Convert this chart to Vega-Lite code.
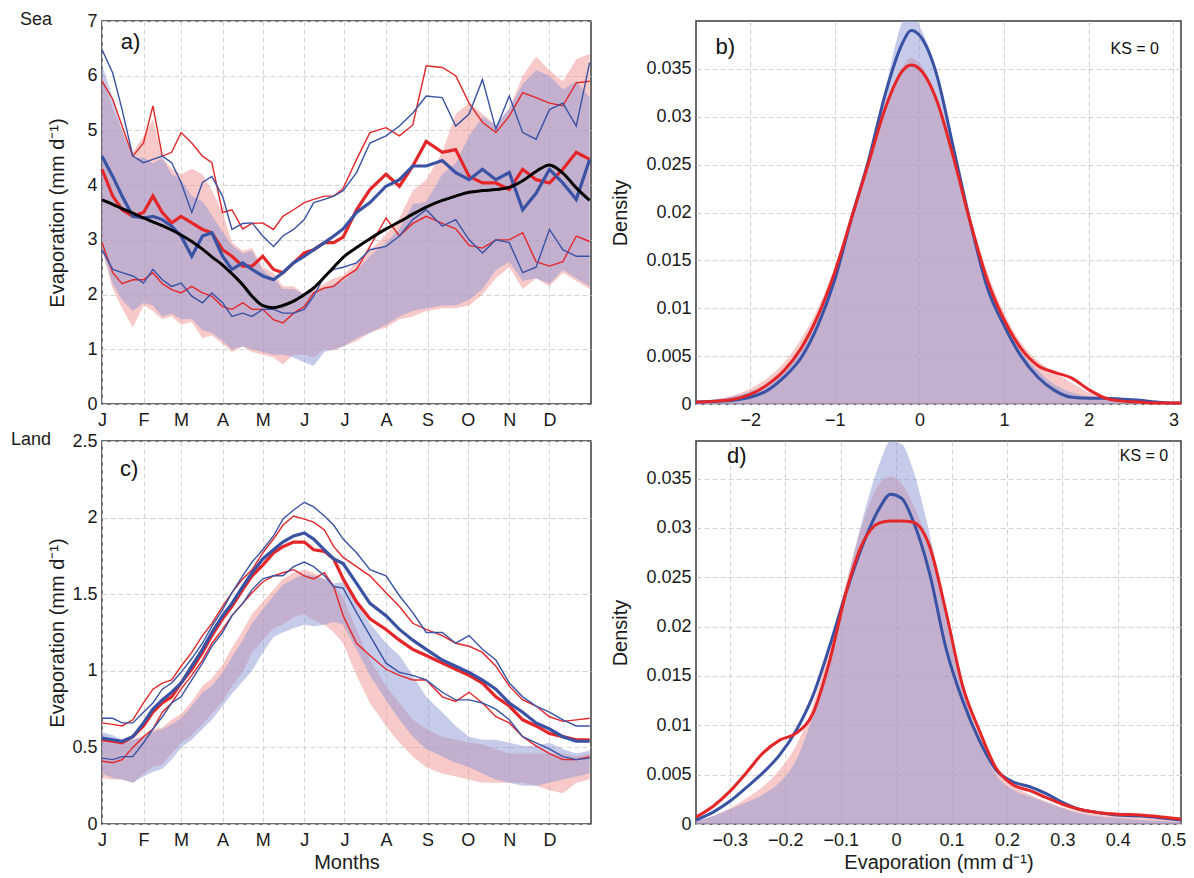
{
"$schema": "https://vega.github.io/schema/vega-lite/v6.json",
"background": "white",
"padding": {"left": 10, "top": 10, "right": 8, "bottom": 4},
"config": {
  "font": "Liberation Sans",
  "view": {"stroke": "#3a3a3a", "strokeWidth": 1.5},
  "axis": {"labelFont": "Liberation Sans", "titleFont": "Liberation Sans", "labelFontSize": 18, "titleFontSize": 20, "titleFontWeight": "normal", "labelColor": "#1a1a1a", "titleColor": "#1a1a1a", "domain": false, "ticks": false, "tickSize": 0, "gridColor": "#d2d2d2", "gridDash": [5, 3], "gridWidth": 1, "labelFlush": false},
  "axisX": {"labelPadding": 7, "titlePadding": 3},
  "axisY": {"labelPadding": 5},
  "title": {"font": "Liberation Sans", "fontSize": 18, "fontWeight": "normal", "color": "#1a1a1a"}
},
"datasets": {
  "sea": [
    {"day":0,"red_lo":2.8,"red_hi":6.0,"blue_lo":2.85,"blue_hi":6.2,"red_1":5.9,"red_2":2.95,"blue_1":6.48,"blue_2":2.82,"red_mean":4.29,"blue_mean":4.53,"obs":3.73},
    {"day":8,"red_lo":2.1,"red_hi":5.4,"blue_lo":2.2,"blue_hi":5.6,"red_1":5.57,"red_2":2.4,"blue_1":6.05,"blue_2":2.46,"red_mean":3.8,"blue_mean":4.16,"obs":3.65},
    {"day":15,"red_lo":1.75,"red_hi":5.0,"blue_lo":1.9,"blue_hi":5.0,"red_1":5.08,"red_2":2.2,"blue_1":5.38,"blue_2":2.4,"red_mean":3.55,"blue_mean":3.8,"obs":3.57},
    {"day":23,"red_lo":1.4,"red_hi":4.6,"blue_lo":1.7,"blue_hi":4.5,"red_1":4.53,"red_2":2.27,"blue_1":4.53,"blue_2":2.34,"red_mean":3.43,"blue_mean":3.43,"obs":3.49},
    {"day":31,"red_lo":1.8,"red_hi":4.9,"blue_lo":1.85,"blue_hi":4.5,"red_1":4.77,"red_2":2.27,"blue_1":4.41,"blue_2":2.21,"red_mean":3.5,"blue_mean":3.4,"obs":3.4},
    {"day":38,"red_lo":1.7,"red_hi":5.2,"blue_lo":1.8,"blue_hi":4.4,"red_1":5.45,"red_2":2.4,"blue_1":4.47,"blue_2":2.46,"red_mean":3.8,"blue_mean":3.43,"obs":3.33},
    {"day":45,"red_lo":1.55,"red_hi":4.5,"blue_lo":1.6,"blue_hi":4.5,"red_1":4.53,"red_2":2.2,"blue_1":4.53,"blue_2":2.27,"red_mean":3.5,"blue_mean":3.37,"obs":3.26},
    {"day":52,"red_lo":1.6,"red_hi":4.3,"blue_lo":1.65,"blue_hi":4.2,"red_1":4.6,"red_2":2.09,"blue_1":4.41,"blue_2":2.15,"red_mean":3.31,"blue_mean":3.25,"obs":3.18},
    {"day":59,"red_lo":1.45,"red_hi":4.2,"blue_lo":1.55,"blue_hi":4.1,"red_1":4.96,"red_2":2.03,"blue_1":4.05,"blue_2":2.21,"red_mean":3.43,"blue_mean":3.07,"obs":3.09},
    {"day":67,"red_lo":1.5,"red_hi":4.3,"blue_lo":1.55,"blue_hi":3.8,"red_1":4.77,"red_2":2.15,"blue_1":3.5,"blue_2":1.97,"red_mean":3.31,"blue_mean":2.7,"obs":2.97},
    {"day":75,"red_lo":1.2,"red_hi":4.2,"blue_lo":1.35,"blue_hi":3.7,"red_1":4.53,"red_2":2.03,"blue_1":4.05,"blue_2":1.85,"red_mean":3.19,"blue_mean":3.07,"obs":2.83},
    {"day":82,"red_lo":1.25,"red_hi":3.9,"blue_lo":1.3,"blue_hi":3.45,"red_1":4.41,"red_2":1.97,"blue_1":4.16,"blue_2":2.03,"red_mean":3.13,"blue_mean":3.13,"obs":2.69},
    {"day":90,"red_lo":1.1,"red_hi":3.5,"blue_lo":1.15,"blue_hi":3.15,"red_1":3.5,"red_2":1.78,"blue_1":3.8,"blue_2":1.85,"red_mean":2.82,"blue_mean":2.7,"obs":2.54},
    {"day":97,"red_lo":0.95,"red_hi":2.95,"blue_lo":1.0,"blue_hi":2.9,"red_1":3.55,"red_2":1.73,"blue_1":3.19,"blue_2":1.6,"red_mean":2.7,"blue_mean":2.46,"obs":2.38},
    {"day":105,"red_lo":1.05,"red_hi":2.8,"blue_lo":1.05,"blue_hi":2.75,"red_1":3.2,"red_2":1.85,"blue_1":3.3,"blue_2":1.66,"red_mean":2.52,"blue_mean":2.58,"obs":2.18},
    {"day":112,"red_lo":0.95,"red_hi":2.85,"blue_lo":1.0,"blue_hi":2.8,"red_1":3.3,"red_2":1.73,"blue_1":3.31,"blue_2":1.6,"red_mean":2.52,"blue_mean":2.46,"obs":1.97},
    {"day":120,"red_lo":0.9,"red_hi":2.5,"blue_lo":0.95,"blue_hi":2.45,"red_1":3.31,"red_2":1.73,"blue_1":3.07,"blue_2":1.73,"red_mean":2.7,"blue_mean":2.34,"obs":1.8},
    {"day":128,"red_lo":0.85,"red_hi":2.4,"blue_lo":0.9,"blue_hi":2.3,"red_1":3.19,"red_2":1.54,"blue_1":2.88,"blue_2":1.73,"red_mean":2.46,"blue_mean":2.27,"obs":1.76},
    {"day":135,"red_lo":0.72,"red_hi":2.15,"blue_lo":0.9,"blue_hi":2.1,"red_1":3.43,"red_2":1.48,"blue_1":3.07,"blue_2":1.66,"red_mean":2.4,"blue_mean":2.4,"obs":1.8},
    {"day":143,"red_lo":0.9,"red_hi":2.15,"blue_lo":0.85,"blue_hi":2.1,"red_1":3.55,"red_2":1.66,"blue_1":3.19,"blue_2":1.66,"red_mean":2.58,"blue_mean":2.58,"obs":1.88},
    {"day":151,"red_lo":0.9,"red_hi":2.0,"blue_lo":0.76,"blue_hi":2.0,"red_1":3.68,"red_2":1.78,"blue_1":3.37,"blue_2":1.73,"red_mean":2.76,"blue_mean":2.7,"obs":2.0},
    {"day":158,"red_lo":0.85,"red_hi":2.1,"blue_lo":0.7,"blue_hi":2.05,"red_1":3.74,"red_2":2.03,"blue_1":3.68,"blue_2":1.97,"red_mean":2.82,"blue_mean":2.82,"obs":2.12},
    {"day":166,"red_lo":1.0,"red_hi":2.2,"blue_lo":0.95,"blue_hi":2.1,"red_1":3.8,"red_2":2.12,"blue_1":3.74,"blue_2":2.34,"red_mean":2.95,"blue_mean":2.95,"obs":2.32},
    {"day":173,"red_lo":0.98,"red_hi":2.3,"blue_lo":1.0,"blue_hi":2.2,"red_1":3.8,"red_2":2.15,"blue_1":3.8,"blue_2":2.46,"red_mean":2.95,"blue_mean":3.07,"obs":2.5},
    {"day":180,"red_lo":1.05,"red_hi":2.35,"blue_lo":1.05,"blue_hi":2.25,"red_1":3.94,"red_2":2.3,"blue_1":3.9,"blue_2":2.5,"red_mean":3.05,"blue_mean":3.2,"obs":2.68},
    {"day":190,"red_lo":1.15,"red_hi":2.6,"blue_lo":1.2,"blue_hi":2.45,"red_1":4.47,"red_2":2.46,"blue_1":4.23,"blue_2":2.58,"red_mean":3.55,"blue_mean":3.5,"obs":2.86},
    {"day":200,"red_lo":1.3,"red_hi":2.8,"blue_lo":1.3,"blue_hi":2.7,"red_1":4.96,"red_2":2.88,"blue_1":4.77,"blue_2":2.82,"red_mean":3.92,"blue_mean":3.68,"obs":3.02},
    {"day":212,"red_lo":1.4,"red_hi":3.1,"blue_lo":1.45,"blue_hi":2.95,"red_1":5.05,"red_2":3.4,"blue_1":4.9,"blue_2":2.88,"red_mean":4.2,"blue_mean":3.98,"obs":3.2},
    {"day":222,"red_lo":1.55,"red_hi":3.4,"blue_lo":1.6,"blue_hi":3.2,"red_1":4.9,"red_2":3.07,"blue_1":5.08,"blue_2":3.07,"red_mean":3.98,"blue_mean":4.1,"obs":3.33},
    {"day":232,"red_lo":1.6,"red_hi":3.9,"blue_lo":1.7,"blue_hi":3.65,"red_1":5.1,"red_2":3.3,"blue_1":5.32,"blue_2":3.37,"red_mean":4.35,"blue_mean":4.35,"obs":3.47},
    {"day":242,"red_lo":1.7,"red_hi":4.1,"blue_lo":1.75,"blue_hi":3.7,"red_1":6.18,"red_2":3.43,"blue_1":5.63,"blue_2":3.55,"red_mean":4.8,"blue_mean":4.35,"obs":3.6},
    {"day":254,"red_lo":1.75,"red_hi":4.6,"blue_lo":1.8,"blue_hi":4.2,"red_1":6.15,"red_2":3.3,"blue_1":5.6,"blue_2":3.25,"red_mean":4.6,"blue_mean":4.45,"obs":3.72},
    {"day":264,"red_lo":1.75,"red_hi":5.3,"blue_lo":1.8,"blue_hi":4.4,"red_1":6.0,"red_2":3.2,"blue_1":5.08,"blue_2":3.37,"red_mean":4.65,"blue_mean":4.23,"obs":3.8},
    {"day":274,"red_lo":1.8,"red_hi":5.5,"blue_lo":1.9,"blue_hi":4.9,"red_1":5.5,"red_2":2.9,"blue_1":5.3,"blue_2":3.0,"red_mean":4.16,"blue_mean":4.1,"obs":3.87},
    {"day":284,"red_lo":2.0,"red_hi":5.3,"blue_lo":2.1,"blue_hi":5.25,"red_1":5.15,"red_2":2.85,"blue_1":5.93,"blue_2":2.76,"red_mean":4.04,"blue_mean":4.29,"obs":3.9},
    {"day":294,"red_lo":2.3,"red_hi":5.1,"blue_lo":2.45,"blue_hi":5.1,"red_1":4.96,"red_2":3.0,"blue_1":5.02,"blue_2":3.0,"red_mean":4.04,"blue_mean":4.1,"obs":3.92},
    {"day":304,"red_lo":2.5,"red_hi":5.4,"blue_lo":2.6,"blue_hi":5.4,"red_1":5.26,"red_2":3.0,"blue_1":5.63,"blue_2":2.95,"red_mean":3.92,"blue_mean":4.23,"obs":3.96},
    {"day":314,"red_lo":2.1,"red_hi":6.0,"blue_lo":2.25,"blue_hi":5.85,"red_1":5.69,"red_2":3.13,"blue_1":4.96,"blue_2":2.4,"red_mean":4.29,"blue_mean":3.55,"obs":4.08},
    {"day":324,"red_lo":2.3,"red_hi":6.35,"blue_lo":2.3,"blue_hi":6.1,"red_1":5.6,"red_2":2.6,"blue_1":4.84,"blue_2":2.5,"red_mean":4.1,"blue_mean":3.85,"obs":4.25},
    {"day":334,"red_lo":2.15,"red_hi":6.1,"blue_lo":2.2,"blue_hi":6.0,"red_1":5.5,"red_2":2.52,"blue_1":5.38,"blue_2":3.19,"red_mean":4.04,"blue_mean":4.29,"obs":4.37},
    {"day":344,"red_lo":2.4,"red_hi":5.9,"blue_lo":2.45,"blue_hi":5.75,"red_1":5.45,"red_2":2.6,"blue_1":5.5,"blue_2":2.82,"red_mean":4.29,"blue_mean":4.04,"obs":4.22},
    {"day":354,"red_lo":2.25,"red_hi":6.3,"blue_lo":2.3,"blue_hi":5.9,"red_1":5.87,"red_2":3.07,"blue_1":5.08,"blue_2":2.7,"red_mean":4.6,"blue_mean":3.74,"obs":3.95},
    {"day":364,"red_lo":2.1,"red_hi":6.4,"blue_lo":2.15,"blue_hi":5.6,"red_1":5.9,"red_2":2.97,"blue_1":6.24,"blue_2":2.7,"red_mean":4.47,"blue_mean":4.47,"obs":3.72}
  ],
  "land": [
    {"day":0,"red_lo":0.3,"red_hi":0.57,"blue_lo":0.33,"blue_hi":0.6,"red_1":0.66,"red_2":0.41,"blue_1":0.69,"blue_2":0.43,"red_mean":0.55,"blue_mean":0.56},
    {"day":8,"red_lo":0.29,"red_hi":0.56,"blue_lo":0.3,"blue_hi":0.58,"red_1":0.65,"red_2":0.4,"blue_1":0.69,"blue_2":0.42,"red_mean":0.54,"blue_mean":0.55},
    {"day":15,"red_lo":0.29,"red_hi":0.52,"blue_lo":0.29,"blue_hi":0.55,"red_1":0.64,"red_2":0.42,"blue_1":0.66,"blue_2":0.44,"red_mean":0.53,"blue_mean":0.54},
    {"day":23,"red_lo":0.27,"red_hi":0.55,"blue_lo":0.27,"blue_hi":0.55,"red_1":0.68,"red_2":0.5,"blue_1":0.66,"blue_2":0.44,"red_mean":0.57,"blue_mean":0.57},
    {"day":31,"red_lo":0.33,"red_hi":0.58,"blue_lo":0.31,"blue_hi":0.57,"red_1":0.79,"red_2":0.57,"blue_1":0.73,"blue_2":0.53,"red_mean":0.64,"blue_mean":0.66},
    {"day":38,"red_lo":0.37,"red_hi":0.62,"blue_lo":0.34,"blue_hi":0.6,"red_1":0.88,"red_2":0.62,"blue_1":0.79,"blue_2":0.62,"red_mean":0.73,"blue_mean":0.75},
    {"day":45,"red_lo":0.39,"red_hi":0.63,"blue_lo":0.36,"blue_hi":0.62,"red_1":0.92,"red_2":0.73,"blue_1":0.88,"blue_2":0.7,"red_mean":0.79,"blue_mean":0.81},
    {"day":52,"red_lo":0.46,"red_hi":0.68,"blue_lo":0.42,"blue_hi":0.65,"red_1":0.94,"red_2":0.79,"blue_1":0.92,"blue_2":0.79,"red_mean":0.83,"blue_mean":0.86},
    {"day":59,"red_lo":0.53,"red_hi":0.72,"blue_lo":0.5,"blue_hi":0.69,"red_1":1.03,"red_2":0.88,"blue_1":0.99,"blue_2":0.83,"red_mean":0.92,"blue_mean":0.92},
    {"day":67,"red_lo":0.58,"red_hi":0.8,"blue_lo":0.55,"blue_hi":0.77,"red_1":1.12,"red_2":0.97,"blue_1":1.08,"blue_2":0.94,"red_mean":1.01,"blue_mean":1.03},
    {"day":75,"red_lo":0.65,"red_hi":0.9,"blue_lo":0.62,"blue_hi":0.86,"red_1":1.23,"red_2":1.07,"blue_1":1.18,"blue_2":1.05,"red_mean":1.12,"blue_mean":1.14},
    {"day":82,"red_lo":0.72,"red_hi":0.95,"blue_lo":0.68,"blue_hi":0.9,"red_1":1.31,"red_2":1.18,"blue_1":1.29,"blue_2":1.16,"red_mean":1.23,"blue_mean":1.25},
    {"day":90,"red_lo":0.8,"red_hi":1.04,"blue_lo":0.77,"blue_hi":0.99,"red_1":1.42,"red_2":1.27,"blue_1":1.4,"blue_2":1.25,"red_mean":1.34,"blue_mean":1.36},
    {"day":97,"red_lo":0.9,"red_hi":1.15,"blue_lo":0.85,"blue_hi":1.09,"red_1":1.51,"red_2":1.36,"blue_1":1.51,"blue_2":1.36,"red_mean":1.42,"blue_mean":1.44},
    {"day":105,"red_lo":0.99,"red_hi":1.26,"blue_lo":0.93,"blue_hi":1.2,"red_1":1.6,"red_2":1.44,"blue_1":1.62,"blue_2":1.44,"red_mean":1.53,"blue_mean":1.55},
    {"day":112,"red_lo":1.12,"red_hi":1.37,"blue_lo":1.0,"blue_hi":1.31,"red_1":1.66,"red_2":1.51,"blue_1":1.71,"blue_2":1.53,"red_mean":1.62,"blue_mean":1.64},
    {"day":120,"red_lo":1.2,"red_hi":1.45,"blue_lo":1.12,"blue_hi":1.4,"red_1":1.77,"red_2":1.58,"blue_1":1.79,"blue_2":1.6,"red_mean":1.69,"blue_mean":1.73},
    {"day":128,"red_lo":1.28,"red_hi":1.53,"blue_lo":1.22,"blue_hi":1.49,"red_1":1.86,"red_2":1.62,"blue_1":1.88,"blue_2":1.62,"red_mean":1.77,"blue_mean":1.79},
    {"day":135,"red_lo":1.3,"red_hi":1.6,"blue_lo":1.25,"blue_hi":1.56,"red_1":1.95,"red_2":1.64,"blue_1":1.99,"blue_2":1.62,"red_mean":1.81,"blue_mean":1.84},
    {"day":143,"red_lo":1.35,"red_hi":1.64,"blue_lo":1.28,"blue_hi":1.6,"red_1":2.01,"red_2":1.66,"blue_1":2.05,"blue_2":1.68,"red_mean":1.84,"blue_mean":1.88},
    {"day":151,"red_lo":1.37,"red_hi":1.66,"blue_lo":1.3,"blue_hi":1.63,"red_1":1.99,"red_2":1.62,"blue_1":2.1,"blue_2":1.71,"red_mean":1.84,"blue_mean":1.9},
    {"day":158,"red_lo":1.33,"red_hi":1.64,"blue_lo":1.29,"blue_hi":1.62,"red_1":1.97,"red_2":1.6,"blue_1":2.07,"blue_2":1.68,"red_mean":1.79,"blue_mean":1.86},
    {"day":166,"red_lo":1.3,"red_hi":1.6,"blue_lo":1.3,"blue_hi":1.6,"red_1":1.92,"red_2":1.64,"blue_1":2.01,"blue_2":1.62,"red_mean":1.78,"blue_mean":1.79},
    {"day":173,"red_lo":1.25,"red_hi":1.56,"blue_lo":1.32,"blue_hi":1.57,"red_1":1.81,"red_2":1.55,"blue_1":1.95,"blue_2":1.55,"red_mean":1.73,"blue_mean":1.73},
    {"day":180,"red_lo":1.18,"red_hi":1.48,"blue_lo":1.3,"blue_hi":1.58,"red_1":1.74,"red_2":1.36,"blue_1":1.86,"blue_2":1.54,"red_mean":1.6,"blue_mean":1.7},
    {"day":190,"red_lo":0.97,"red_hi":1.27,"blue_lo":1.14,"blue_hi":1.44,"red_1":1.68,"red_2":1.18,"blue_1":1.77,"blue_2":1.38,"red_mean":1.45,"blue_mean":1.57},
    {"day":200,"red_lo":0.79,"red_hi":1.07,"blue_lo":0.97,"blue_hi":1.31,"red_1":1.62,"red_2":1.1,"blue_1":1.66,"blue_2":1.23,"red_mean":1.34,"blue_mean":1.44},
    {"day":212,"red_lo":0.64,"red_hi":0.9,"blue_lo":0.81,"blue_hi":1.18,"red_1":1.51,"red_2":1.01,"blue_1":1.62,"blue_2":1.05,"red_mean":1.27,"blue_mean":1.36},
    {"day":222,"red_lo":0.53,"red_hi":0.79,"blue_lo":0.68,"blue_hi":1.1,"red_1":1.42,"red_2":0.97,"blue_1":1.49,"blue_2":0.99,"red_mean":1.2,"blue_mean":1.27},
    {"day":232,"red_lo":0.44,"red_hi":0.68,"blue_lo":0.57,"blue_hi":0.97,"red_1":1.31,"red_2":0.94,"blue_1":1.38,"blue_2":0.97,"red_mean":1.14,"blue_mean":1.2},
    {"day":242,"red_lo":0.37,"red_hi":0.62,"blue_lo":0.49,"blue_hi":0.83,"red_1":1.27,"red_2":0.94,"blue_1":1.25,"blue_2":0.94,"red_mean":1.1,"blue_mean":1.14},
    {"day":254,"red_lo":0.33,"red_hi":0.57,"blue_lo":0.44,"blue_hi":0.73,"red_1":1.23,"red_2":0.83,"blue_1":1.25,"blue_2":0.86,"red_mean":1.05,"blue_mean":1.07},
    {"day":264,"red_lo":0.31,"red_hi":0.55,"blue_lo":0.4,"blue_hi":0.64,"red_1":1.18,"red_2":0.8,"blue_1":1.18,"blue_2":0.81,"red_mean":1.01,"blue_mean":1.03},
    {"day":274,"red_lo":0.29,"red_hi":0.53,"blue_lo":0.37,"blue_hi":0.57,"red_1":1.16,"red_2":0.86,"blue_1":1.23,"blue_2":0.81,"red_mean":0.97,"blue_mean":0.99},
    {"day":284,"red_lo":0.27,"red_hi":0.52,"blue_lo":0.33,"blue_hi":0.55,"red_1":1.12,"red_2":0.79,"blue_1":1.14,"blue_2":0.79,"red_mean":0.92,"blue_mean":0.94},
    {"day":294,"red_lo":0.27,"red_hi":0.49,"blue_lo":0.29,"blue_hi":0.55,"red_1":1.03,"red_2":0.7,"blue_1":1.07,"blue_2":0.75,"red_mean":0.83,"blue_mean":0.88},
    {"day":304,"red_lo":0.27,"red_hi":0.46,"blue_lo":0.27,"blue_hi":0.53,"red_1":0.9,"red_2":0.66,"blue_1":0.92,"blue_2":0.68,"red_mean":0.77,"blue_mean":0.79},
    {"day":314,"red_lo":0.27,"red_hi":0.46,"blue_lo":0.25,"blue_hi":0.51,"red_1":0.81,"red_2":0.57,"blue_1":0.83,"blue_2":0.57,"red_mean":0.68,"blue_mean":0.73},
    {"day":324,"red_lo":0.25,"red_hi":0.46,"blue_lo":0.25,"blue_hi":0.51,"red_1":0.77,"red_2":0.51,"blue_1":0.77,"blue_2":0.53,"red_mean":0.64,"blue_mean":0.66},
    {"day":334,"red_lo":0.22,"red_hi":0.46,"blue_lo":0.27,"blue_hi":0.53,"red_1":0.7,"red_2":0.46,"blue_1":0.73,"blue_2":0.49,"red_mean":0.59,"blue_mean":0.62},
    {"day":344,"red_lo":0.2,"red_hi":0.46,"blue_lo":0.29,"blue_hi":0.49,"red_1":0.67,"red_2":0.42,"blue_1":0.68,"blue_2":0.44,"red_mean":0.57,"blue_mean":0.57},
    {"day":354,"red_lo":0.27,"red_hi":0.44,"blue_lo":0.31,"blue_hi":0.46,"red_1":0.68,"red_2":0.42,"blue_1":0.64,"blue_2":0.42,"red_mean":0.55,"blue_mean":0.54},
    {"day":364,"red_lo":0.29,"red_hi":0.46,"blue_lo":0.33,"blue_hi":0.48,"red_1":0.69,"red_2":0.44,"blue_1":0.64,"blue_2":0.43,"red_mean":0.55,"blue_mean":0.54}
  ],
  "seaden": [
    {"x":-2.64,"fill_red":0.0003,"fill_blue":0.0003,"line_red":0.0002,"line_blue":0.0002},
    {"x":-2.4,"fill_red":0.0005,"fill_blue":0.0005,"line_red":0.0003,"line_blue":0.0003},
    {"x":-2.2,"fill_red":0.0009,"fill_blue":0.0008,"line_red":0.0005,"line_blue":0.0004},
    {"x":-2.0,"fill_red":0.0016,"fill_blue":0.0013,"line_red":0.001,"line_blue":0.0007},
    {"x":-1.8,"fill_red":0.0027,"fill_blue":0.0021,"line_red":0.002,"line_blue":0.0014},
    {"x":-1.6,"fill_red":0.0043,"fill_blue":0.0035,"line_red":0.0035,"line_blue":0.0028},
    {"x":-1.4,"fill_red":0.0068,"fill_blue":0.0057,"line_red":0.0058,"line_blue":0.0048},
    {"x":-1.2,"fill_red":0.01,"fill_blue":0.009,"line_red":0.0092,"line_blue":0.0082},
    {"x":-1.0,"fill_red":0.0143,"fill_blue":0.0135,"line_red":0.0138,"line_blue":0.013},
    {"x":-0.8,"fill_red":0.0198,"fill_blue":0.0195,"line_red":0.0195,"line_blue":0.0195},
    {"x":-0.6,"fill_red":0.0252,"fill_blue":0.0256,"line_red":0.0252,"line_blue":0.0255},
    {"x":-0.4,"fill_red":0.031,"fill_blue":0.033,"line_red":0.031,"line_blue":0.0325},
    {"x":-0.2,"fill_red":0.0352,"fill_blue":0.04,"line_red":0.0348,"line_blue":0.0377},
    {"x":-0.1,"fill_red":0.0362,"fill_blue":0.0412,"line_red":0.0354,"line_blue":0.039},
    {"x":0,"fill_red":0.0356,"fill_blue":0.0395,"line_red":0.035,"line_blue":0.0385},
    {"x":0.2,"fill_red":0.0322,"fill_blue":0.035,"line_red":0.0318,"line_blue":0.0345},
    {"x":0.4,"fill_red":0.0262,"fill_blue":0.0272,"line_red":0.0258,"line_blue":0.0268},
    {"x":0.6,"fill_red":0.0196,"fill_blue":0.0195,"line_red":0.019,"line_blue":0.019},
    {"x":0.8,"fill_red":0.0138,"fill_blue":0.0127,"line_red":0.013,"line_blue":0.0122},
    {"x":1.0,"fill_red":0.0095,"fill_blue":0.0085,"line_red":0.0088,"line_blue":0.0082},
    {"x":1.2,"fill_red":0.0064,"fill_blue":0.0055,"line_red":0.0058,"line_blue":0.005},
    {"x":1.4,"fill_red":0.0045,"fill_blue":0.0035,"line_red":0.004,"line_blue":0.0028},
    {"x":1.6,"fill_red":0.0033,"fill_blue":0.002,"line_red":0.0033,"line_blue":0.0014},
    {"x":1.8,"fill_red":0.0022,"fill_blue":0.0012,"line_red":0.0027,"line_blue":0.0007},
    {"x":2.0,"fill_red":0.0012,"fill_blue":0.0008,"line_red":0.0015,"line_blue":0.0006},
    {"x":2.2,"fill_red":0.0006,"fill_blue":0.0006,"line_red":0.0006,"line_blue":0.0006},
    {"x":2.4,"fill_red":0.0003,"fill_blue":0.0005,"line_red":0.0003,"line_blue":0.0005},
    {"x":2.6,"fill_red":0.0002,"fill_blue":0.0004,"line_red":0.0002,"line_blue":0.0004},
    {"x":2.8,"fill_red":0.0001,"fill_blue":0.0003,"line_red":0.0001,"line_blue":0.0002},
    {"x":3.0,"fill_red":0.0001,"fill_blue":0.0002,"line_red":0.0001,"line_blue":0.0001},
    {"x":3.09,"fill_red":0.0001,"fill_blue":0.0002,"line_red":0.0001,"line_blue":0.0001}
  ],
  "landden": [
    {"x":-0.361,"fill_red":0.0003,"fill_blue":0.0003,"line_red":0.0007,"line_blue":0.0004},
    {"x":-0.33,"fill_red":0.0008,"fill_blue":0.0008,"line_red":0.0018,"line_blue":0.0012},
    {"x":-0.3,"fill_red":0.0016,"fill_blue":0.0015,"line_red":0.0033,"line_blue":0.0023},
    {"x":-0.27,"fill_red":0.0026,"fill_blue":0.0022,"line_red":0.0052,"line_blue":0.0037},
    {"x":-0.24,"fill_red":0.0038,"fill_blue":0.003,"line_red":0.0072,"line_blue":0.0052},
    {"x":-0.21,"fill_red":0.0055,"fill_blue":0.0042,"line_red":0.0085,"line_blue":0.007},
    {"x":-0.18,"fill_red":0.008,"fill_blue":0.0065,"line_red":0.0092,"line_blue":0.0095},
    {"x":-0.15,"fill_red":0.012,"fill_blue":0.011,"line_red":0.0112,"line_blue":0.013},
    {"x":-0.12,"fill_red":0.018,"fill_blue":0.017,"line_red":0.0165,"line_blue":0.018},
    {"x":-0.09,"fill_red":0.0245,"fill_blue":0.024,"line_red":0.0235,"line_blue":0.0235},
    {"x":-0.06,"fill_red":0.0305,"fill_blue":0.031,"line_red":0.0285,"line_blue":0.0283},
    {"x":-0.03,"fill_red":0.0345,"fill_blue":0.0365,"line_red":0.0305,"line_blue":0.032},
    {"x":-0.01,"fill_red":0.0352,"fill_blue":0.0388,"line_red":0.0307,"line_blue":0.0334},
    {"x":0.01,"fill_red":0.0345,"fill_blue":0.0385,"line_red":0.0307,"line_blue":0.033},
    {"x":0.03,"fill_red":0.0325,"fill_blue":0.036,"line_red":0.0306,"line_blue":0.0308},
    {"x":0.06,"fill_red":0.028,"fill_blue":0.0295,"line_red":0.0282,"line_blue":0.0255},
    {"x":0.09,"fill_red":0.0215,"fill_blue":0.0215,"line_red":0.0215,"line_blue":0.0178},
    {"x":0.12,"fill_red":0.0145,"fill_blue":0.014,"line_red":0.014,"line_blue":0.0125},
    {"x":0.15,"fill_red":0.0092,"fill_blue":0.0085,"line_red":0.0095,"line_blue":0.0085},
    {"x":0.18,"fill_red":0.0058,"fill_blue":0.005,"line_red":0.0057,"line_blue":0.0055},
    {"x":0.21,"fill_red":0.004,"fill_blue":0.0035,"line_red":0.004,"line_blue":0.0043},
    {"x":0.24,"fill_red":0.003,"fill_blue":0.0028,"line_red":0.0034,"line_blue":0.0038},
    {"x":0.27,"fill_red":0.0023,"fill_blue":0.0022,"line_red":0.0027,"line_blue":0.0031},
    {"x":0.3,"fill_red":0.0017,"fill_blue":0.0016,"line_red":0.002,"line_blue":0.0022},
    {"x":0.33,"fill_red":0.0013,"fill_blue":0.0011,"line_red":0.0015,"line_blue":0.0015},
    {"x":0.36,"fill_red":0.001,"fill_blue":0.0008,"line_red":0.0012,"line_blue":0.0012},
    {"x":0.4,"fill_red":0.0008,"fill_blue":0.0006,"line_red":0.001,"line_blue":0.0009},
    {"x":0.44,"fill_red":0.0006,"fill_blue":0.0004,"line_red":0.0009,"line_blue":0.0008},
    {"x":0.48,"fill_red":0.0005,"fill_blue":0.0003,"line_red":0.0007,"line_blue":0.0006},
    {"x":0.514,"fill_red":0.0004,"fill_blue":0.0002,"line_red":0.0005,"line_blue":0.0004}
  ],
  "notes": [
    {"panel":"a","kind":"tag","label":"a)","pos_x":14,"pos_y":6.62},
    {"panel":"b","kind":"tag","label":"b)","pos_x":-2.41,"pos_y":0.0373},
    {"panel":"b","kind":"ks","label":"KS = 0","pos_x":2.83,"pos_y":0.0371},
    {"panel":"c","kind":"tag","label":"c)","pos_x":13.4,"pos_y":2.32},
    {"panel":"d","kind":"tag","label":"d)","pos_x":-0.305,"pos_y":0.0373},
    {"panel":"d","kind":"ks","label":"KS = 0","pos_x":0.491,"pos_y":0.0373}
  ]
},
"bounds": "flush",
"columns": 2,
"spacing": {"row": 37, "column": 105},
"concat": [
  {
    "width": 489, "height": 383,
    "title": {"text": "Sea", "anchor": "start", "frame": "bounds", "offset": 0, "dx": -27, "dy": 17},
    "data": {"name": "sea"},
    "encoding": {"x": {"field": "day", "type": "quantitative", "scale": {"domain": [0, 365], "nice": false, "zero": false},
      "axis": {"title": null, "values": [0,31,59,90,120,151,181,212,243,273,304,334], "labelExpr": "['J','F','M','A','M','J','J','A','S','O','N','D'][indexof([0,31,59,90,120,151,181,212,243,273,304,334], datum.value)]"}}},
    "layer": [
      {"mark": {"type": "area", "color": "#f09494", "opacity": 0.5}, "encoding": {"y": {"field": "red_lo", "type": "quantitative", "title": "Evaporation (mm d⁻¹)", "scale": {"domain": [0, 7], "nice": false}, "axis": {"values": [0,1,2,3,4,5,6,7], "format": "~g", "minExtent": 33, "maxExtent": 33, "titlePadding": 2}}, "y2": {"field": "red_hi"}}},
      {"mark": {"type": "area", "color": "#8f98d6", "opacity": 0.5}, "encoding": {"y": {"field": "blue_lo", "type": "quantitative", "title": "Evaporation (mm d⁻¹)"}, "y2": {"field": "blue_hi"}}},
      {"mark": {"type": "line", "color": "#e42628", "strokeWidth": 1.4}, "encoding": {"y": {"field": "red_1", "type": "quantitative", "title": "Evaporation (mm d⁻¹)"}}},
      {"mark": {"type": "line", "color": "#e42628", "strokeWidth": 1.4}, "encoding": {"y": {"field": "red_2", "type": "quantitative", "title": "Evaporation (mm d⁻¹)"}}},
      {"mark": {"type": "line", "color": "#3a52a3", "strokeWidth": 1.4}, "encoding": {"y": {"field": "blue_1", "type": "quantitative", "title": "Evaporation (mm d⁻¹)"}}},
      {"mark": {"type": "line", "color": "#3a52a3", "strokeWidth": 1.4}, "encoding": {"y": {"field": "blue_2", "type": "quantitative", "title": "Evaporation (mm d⁻¹)"}}},
      {"mark": {"type": "line", "color": "#e42628", "strokeWidth": 3.2}, "encoding": {"y": {"field": "red_mean", "type": "quantitative", "title": "Evaporation (mm d⁻¹)"}}},
      {"mark": {"type": "line", "color": "#3a52a3", "strokeWidth": 3.2}, "encoding": {"y": {"field": "blue_mean", "type": "quantitative", "title": "Evaporation (mm d⁻¹)"}}},
      {"mark": {"type": "line", "color": "#000000", "strokeWidth": 3, "interpolate": "monotone"}, "encoding": {"y": {"field": "obs", "type": "quantitative", "title": "Evaporation (mm d⁻¹)"}}},
      {"data": {"name": "notes"}, "transform": [{"filter": "datum.panel == 'a'"}], "mark": {"type": "text", "fontSize": 22, "align": "left", "baseline": "middle", "color": "#111"}, "encoding": {"x": {"field": "pos_x", "type": "quantitative"}, "y": {"field": "pos_y", "type": "quantitative", "title": "Evaporation (mm d⁻¹)"}, "text": {"field": "label"}}}
    ]
  },
  {
    "width": 485, "height": 383,
    "data": {"name": "seaden"},
    "encoding": {"x": {"field": "x", "type": "quantitative", "scale": {"domain": [-2.64, 3.09], "nice": false, "zero": false},
      "axis": {"title": null, "values": [-2,-1,0,1,2,3], "format": "~g"}}},
    "layer": [
      {"mark": {"type": "area", "color": "#f09494", "opacity": 0.5, "interpolate": "monotone", "clip": true}, "encoding": {"y": {"field": "fill_red", "type": "quantitative", "title": "Density", "scale": {"domain": [0, 0.04], "nice": false}, "axis": {"values": [0,0.005,0.01,0.015,0.02,0.025,0.03,0.035], "format": "~g", "minExtent": 55, "maxExtent": 55, "titlePadding": 11}}}},
      {"mark": {"type": "area", "color": "#8f98d6", "opacity": 0.5, "interpolate": "monotone", "clip": true}, "encoding": {"y": {"field": "fill_blue", "type": "quantitative", "title": "Density"}}},
      {"mark": {"type": "line", "color": "#3a52a3", "strokeWidth": 3, "interpolate": "monotone"}, "encoding": {"y": {"field": "line_blue", "type": "quantitative", "title": "Density"}}},
      {"mark": {"type": "line", "color": "#e42628", "strokeWidth": 3, "interpolate": "monotone"}, "encoding": {"y": {"field": "line_red", "type": "quantitative", "title": "Density"}}},
      {"data": {"name": "notes"}, "transform": [{"filter": "datum.panel == 'b' && datum.kind == 'tag'"}], "mark": {"type": "text", "fontSize": 22, "align": "left", "baseline": "middle", "color": "#111"}, "encoding": {"x": {"field": "pos_x", "type": "quantitative"}, "y": {"field": "pos_y", "type": "quantitative", "title": "Density"}, "text": {"field": "label"}}},
      {"data": {"name": "notes"}, "transform": [{"filter": "datum.panel == 'b' && datum.kind == 'ks'"}], "mark": {"type": "text", "fontSize": 16, "align": "right", "baseline": "middle", "color": "#111"}, "encoding": {"x": {"field": "pos_x", "type": "quantitative"}, "y": {"field": "pos_y", "type": "quantitative", "title": "Density"}, "text": {"field": "label"}}}
    ]
  },
  {
    "width": 489, "height": 383,
    "title": {"text": "Land", "anchor": "start", "frame": "bounds", "offset": 0, "dx": -36, "dy": 17},
    "data": {"name": "land"},
    "encoding": {"x": {"field": "day", "type": "quantitative", "scale": {"domain": [0, 365], "nice": false, "zero": false},
      "axis": {"title": "Months", "values": [0,31,59,90,120,151,181,212,243,273,304,334], "labelExpr": "['J','F','M','A','M','J','J','A','S','O','N','D'][indexof([0,31,59,90,120,151,181,212,243,273,304,334], datum.value)]"}}},
    "layer": [
      {"mark": {"type": "area", "color": "#f09494", "opacity": 0.5}, "encoding": {"y": {"field": "red_lo", "type": "quantitative", "title": "Evaporation (mm d⁻¹)", "scale": {"domain": [0, 2.5], "nice": false}, "axis": {"values": [0,0.5,1,1.5,2,2.5], "format": "~g", "minExtent": 33, "maxExtent": 33, "titlePadding": 2}}, "y2": {"field": "red_hi"}}},
      {"mark": {"type": "area", "color": "#8f98d6", "opacity": 0.5}, "encoding": {"y": {"field": "blue_lo", "type": "quantitative", "title": "Evaporation (mm d⁻¹)"}, "y2": {"field": "blue_hi"}}},
      {"mark": {"type": "line", "color": "#e42628", "strokeWidth": 1.4}, "encoding": {"y": {"field": "red_1", "type": "quantitative", "title": "Evaporation (mm d⁻¹)"}}},
      {"mark": {"type": "line", "color": "#e42628", "strokeWidth": 1.4}, "encoding": {"y": {"field": "red_2", "type": "quantitative", "title": "Evaporation (mm d⁻¹)"}}},
      {"mark": {"type": "line", "color": "#3a52a3", "strokeWidth": 1.4}, "encoding": {"y": {"field": "blue_1", "type": "quantitative", "title": "Evaporation (mm d⁻¹)"}}},
      {"mark": {"type": "line", "color": "#3a52a3", "strokeWidth": 1.4}, "encoding": {"y": {"field": "blue_2", "type": "quantitative", "title": "Evaporation (mm d⁻¹)"}}},
      {"mark": {"type": "line", "color": "#e42628", "strokeWidth": 3.2}, "encoding": {"y": {"field": "red_mean", "type": "quantitative", "title": "Evaporation (mm d⁻¹)"}}},
      {"mark": {"type": "line", "color": "#3a52a3", "strokeWidth": 3.2}, "encoding": {"y": {"field": "blue_mean", "type": "quantitative", "title": "Evaporation (mm d⁻¹)"}}},
      {"data": {"name": "notes"}, "transform": [{"filter": "datum.panel == 'c'"}], "mark": {"type": "text", "fontSize": 22, "align": "left", "baseline": "middle", "color": "#111"}, "encoding": {"x": {"field": "pos_x", "type": "quantitative"}, "y": {"field": "pos_y", "type": "quantitative", "title": "Evaporation (mm d⁻¹)"}, "text": {"field": "label"}}}
    ]
  },
  {
    "width": 485, "height": 383,
    "data": {"name": "landden"},
    "encoding": {"x": {"field": "x", "type": "quantitative", "scale": {"domain": [-0.361, 0.514], "nice": false, "zero": false},
      "axis": {"title": "Evaporation (mm d⁻¹)", "values": [-0.3,-0.2,-0.1,0,0.1,0.2,0.3,0.4,0.5], "format": "~g"}}},
    "layer": [
      {"mark": {"type": "area", "color": "#f09494", "opacity": 0.5, "interpolate": "monotone", "clip": true}, "encoding": {"y": {"field": "fill_red", "type": "quantitative", "title": "Density", "scale": {"domain": [0, 0.0388], "nice": false}, "axis": {"values": [0,0.005,0.01,0.015,0.02,0.025,0.03,0.035], "format": "~g", "minExtent": 55, "maxExtent": 55, "titlePadding": 11}}}},
      {"mark": {"type": "area", "color": "#8f98d6", "opacity": 0.5, "interpolate": "monotone", "clip": true}, "encoding": {"y": {"field": "fill_blue", "type": "quantitative", "title": "Density"}}},
      {"mark": {"type": "line", "color": "#3a52a3", "strokeWidth": 3, "interpolate": "monotone"}, "encoding": {"y": {"field": "line_blue", "type": "quantitative", "title": "Density"}}},
      {"mark": {"type": "line", "color": "#e42628", "strokeWidth": 3, "interpolate": "monotone"}, "encoding": {"y": {"field": "line_red", "type": "quantitative", "title": "Density"}}},
      {"data": {"name": "notes"}, "transform": [{"filter": "datum.panel == 'd' && datum.kind == 'tag'"}], "mark": {"type": "text", "fontSize": 22, "align": "left", "baseline": "middle", "color": "#111"}, "encoding": {"x": {"field": "pos_x", "type": "quantitative", "title": "Evaporation (mm d⁻¹)"}, "y": {"field": "pos_y", "type": "quantitative", "title": "Density"}, "text": {"field": "label"}}},
      {"data": {"name": "notes"}, "transform": [{"filter": "datum.panel == 'd' && datum.kind == 'ks'"}], "mark": {"type": "text", "fontSize": 16, "align": "right", "baseline": "middle", "color": "#111"}, "encoding": {"x": {"field": "pos_x", "type": "quantitative", "title": "Evaporation (mm d⁻¹)"}, "y": {"field": "pos_y", "type": "quantitative", "title": "Density"}, "text": {"field": "label"}}}
    ]
  }
]
}
